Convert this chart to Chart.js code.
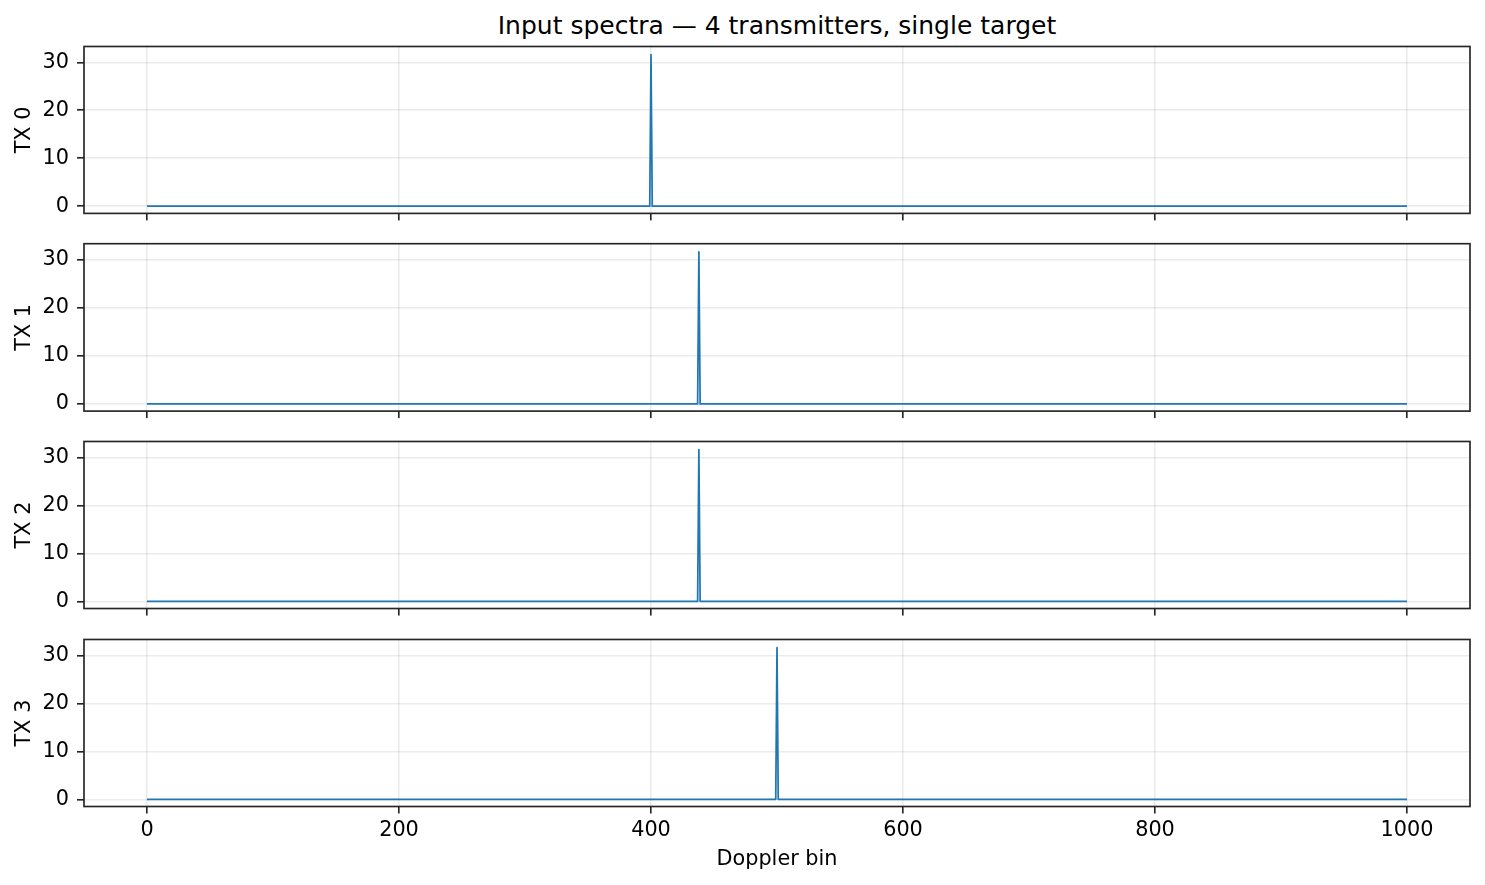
<!DOCTYPE html>
<html>
<head>
<meta charset="utf-8">
<script src="https://cdn.jsdelivr.net/npm/chart.js@4.4.1/dist/chart.umd.min.js"></script>
<style>
  body { margin: 0; background: #fff; width: 1485px; height: 885px; overflow: hidden; position: relative; font-family: "DejaVu Sans"; }
  canvas { position: absolute; left: 0; }
  #titre { position: absolute; left: 84px; width: 1386px; top: 13px; text-align: center; font-size: 25px; line-height: 25px; color: #000; }
</style>
</head>
<body>
<div id="titre">Input spectra — 4 transmitters, single target</div>
<canvas id="c0"></canvas>
<canvas id="c1"></canvas>
<canvas id="c2"></canvas>
<canvas id="c3"></canvas>
<script>
// donnees
var txLabels = ["TX 0", "TX 1", "TX 2", "TX 3"];
var tx0Bins = [0, 399, 400, 401, 1000];
var tx0Power = [0, 0, 31.6, 0, 0];
var tx1Bins = [0, 437, 438, 439, 1000];
var tx1Power = [0, 0, 31.6, 0, 0];
var tx2Bins = [0, 437, 438, 439, 1000];
var tx2Power = [0, 0, 31.6, 0, 0];
var tx3Bins = [0, 499, 500, 501, 1000];
var tx3Power = [0, 0, 31.6, 0, 0];
var xTicks = [0, 200, 400, 600, 800, 1000];
var yTicks = [0, 10, 20, 30];
var xLabel = "Doppler bin";

var allBins = [tx0Bins, tx1Bins, tx2Bins, tx3Bins];
var allPower = [tx0Power, tx1Power, tx2Power, tx3Power];

/* mise en page */
var areaTop = [46, 243.7, 441.4, 639.1];
var areaH = 167.4;
var police = "DejaVu Sans";

var cadre = {
  id: "cadre",
  afterDraw: function (chart) {
    var a = chart.chartArea, ctx = chart.ctx;
    ctx.save();
    ctx.strokeStyle = "#262626";
    ctx.lineWidth = 1.67;
    ctx.strokeRect(a.left, a.top, a.right - a.left, a.bottom - a.top);
    ctx.restore();
  }
};

for (var i = 0; i < 4; i++) {
  var dernier = (i == 3);
  var canvasTop = Math.floor(areaTop[i]) - 20;
  var padTop = areaTop[i] - canvasTop;
  var canvasH = dernier ? 885 - canvasTop : Math.ceil(padTop + areaH + 20);
  var xH = canvasH - padTop - areaH;

  var cv = document.getElementById("c" + i);
  cv.width = 1485; cv.height = canvasH;
  cv.style.width = "1485px"; cv.style.height = canvasH + "px";
  cv.style.top = canvasTop + "px";

  var points = [];
  for (var k = 0; k < allBins[i].length; k++) {
    points.push({ x: allBins[i][k], y: allPower[i][k] });
  }

  (function (xH, dernier, label) {
    new Chart(cv, {
      type: "line",
      data: {
        datasets: [{
          data: points,
          borderColor: "#1f77b4",
          borderWidth: 1.75,
          borderJoinStyle: "round",
          pointRadius: 0,
          tension: 0,
          fill: false
        }]
      },
      options: {
        responsive: false,
        animation: false,
        devicePixelRatio: 1,
        layout: { padding: { top: padTop, right: 15, bottom: 0, left: 0 } },
        plugins: { legend: { display: false }, tooltip: { enabled: false } },
        scales: {
          x: {
            type: "linear",
            min: -50, max: 1050,
            afterBuildTicks: function (s) { s.ticks = xTicks.map(function (v) { return { value: v }; }); },
            afterFit: function (s) { s.height = xH; },
            grid: { color: "rgba(0,0,0,0.08)", lineWidth: 1.6, tickColor: "#262626", tickWidth: 1.67, tickLength: 7 },
            border: { display: false },
            ticks: {
              display: dernier,
              padding: 5,
              color: "#000",
              font: { family: police, size: 20.8 },
              maxRotation: 0,
              callback: function (v) { return String(v); }
            },
            title: {
              display: dernier,
              text: xLabel,
              color: "#000",
              font: { family: police, size: 20.8 },
              padding: { top: 0, bottom: 13 }
            }
          },
          y: {
            min: -1.5, max: 33.3,
            afterBuildTicks: function (s) { s.ticks = yTicks.map(function (v) { return { value: v }; }); },
            afterFit: function (s) { s.width = 84; },
            grid: { color: "rgba(0,0,0,0.08)", lineWidth: 1.6, tickColor: "#262626", tickWidth: 1.67, tickLength: 7 },
            border: { display: false },
            ticks: {
              padding: 8,
              color: "#000",
              font: { family: police, size: 20.8 },
              callback: function (v) { return String(v); }
            },
            title: {
              display: true,
              text: label,
              color: "#000",
              font: { family: police, size: 20.8 },
              padding: { top: 12, bottom: 0 }
            }
          }
        }
      },
      plugins: [cadre]
    });
  })(xH, dernier, txLabels[i]);
}
</script>
</body>
</html>
